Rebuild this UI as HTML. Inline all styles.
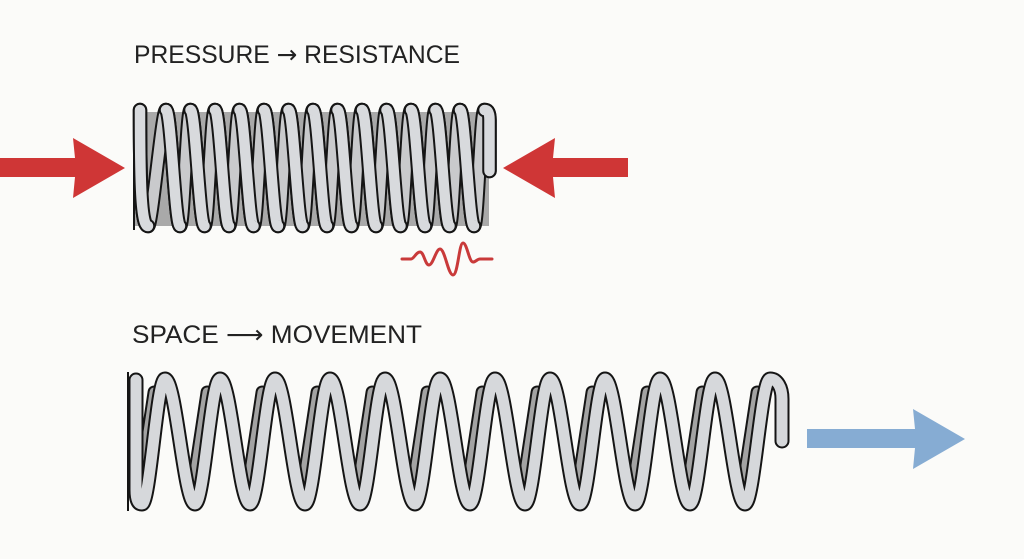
<!DOCTYPE html>
<html>
<head>
<meta charset="utf-8">
<style>
  html,body{margin:0;padding:0;background:#fbfbf9;}
  body{width:1024px;height:559px;overflow:hidden;}
  svg{display:block;}
</style>
</head>
<body>
<svg width="1024" height="559" viewBox="0 0 1024 559" xmlns="http://www.w3.org/2000/svg">
  <rect x="0" y="0" width="1024" height="559" fill="#fbfbf9"/>

  <!-- Labels -->
  <text x="134" y="63" font-family="'Liberation Sans', 'DejaVu Sans', sans-serif" font-size="25" fill="#222" textLength="326" lengthAdjust="spacingAndGlyphs">PRESSURE <tspan font-family="'DejaVu Sans', sans-serif">→</tspan> RESISTANCE</text>
  <text x="132" y="343" font-family="'Liberation Sans', 'DejaVu Sans', sans-serif" font-size="25" fill="#222" textLength="290" lengthAdjust="spacingAndGlyphs">SPACE <tspan font-family="'DejaVu Sans', sans-serif">⟶</tspan> MOVEMENT</text>

  <!-- Red arrows -->
  <polygon points="0,158 75,158 73,138 125,168 73,198 75,177 0,177" fill="#cf3636"/>
  <polygon points="628,158 553,158 555,138 503,168 555,198 553,177 628,177" fill="#cf3636"/>

  <!-- Blue arrow -->
  <polygon points="807,429 915,429 913,409 965,439 913,469 915,448 807,448" fill="#86acd3"/>

  <!-- Top (compressed) spring -->
  <rect x="134" y="112" width="355" height="114" fill="#a9a9a9"/>
  <line x1="134" y1="108" x2="134" y2="230" stroke="#151515" stroke-width="2"/>
  <g fill="none" stroke-linecap="round" stroke-linejoin="round">
    <!-- back (full wave) -->
    <path d="M 140,110 C 140,180 141,226 148,226 c 4,0 14,-116 18,-116
      c 5,0 9,116 14,116 c 4,0 6.5,-116 10.5,-116
      c 5,0 9,116 14,116 c 4,0 6.5,-116 10.5,-116
      c 5,0 9,116 14,116 c 4,0 6.5,-116 10.5,-116
      c 5,0 9,116 14,116 c 4,0 6.5,-116 10.5,-116
      c 5,0 9,116 14,116 c 4,0 6.5,-116 10.5,-116
      c 5,0 9,116 14,116 c 4,0 6.5,-116 10.5,-116
      c 5,0 9,116 14,116 c 4,0 6.5,-116 10.5,-116
      c 5,0 9,116 14,116 c 4,0 6.5,-116 10.5,-116
      c 5,0 9,116 14,116 c 4,0 6.5,-116 10.5,-116
      c 5,0 9,116 14,116 c 4,0 6.5,-116 10.5,-116
      c 5,0 9,116 14,116 c 4,0 6.5,-116 10.5,-116
      c 5,0 9,116 14,116 c 4,0 6.5,-116 10.5,-116
      c 5,0 9,116 14,116 c 4,0 6.5,-116 10.5,-116
      c 4,0 5,4 5,10 l 0,51"
      stroke="#151515" stroke-width="14.5"/>
    <path d="M 140,110 C 140,180 141,226 148,226 c 4,0 14,-116 18,-116
      c 5,0 9,116 14,116 c 4,0 6.5,-116 10.5,-116
      c 5,0 9,116 14,116 c 4,0 6.5,-116 10.5,-116
      c 5,0 9,116 14,116 c 4,0 6.5,-116 10.5,-116
      c 5,0 9,116 14,116 c 4,0 6.5,-116 10.5,-116
      c 5,0 9,116 14,116 c 4,0 6.5,-116 10.5,-116
      c 5,0 9,116 14,116 c 4,0 6.5,-116 10.5,-116
      c 5,0 9,116 14,116 c 4,0 6.5,-116 10.5,-116
      c 5,0 9,116 14,116 c 4,0 6.5,-116 10.5,-116
      c 5,0 9,116 14,116 c 4,0 6.5,-116 10.5,-116
      c 5,0 9,116 14,116 c 4,0 6.5,-116 10.5,-116
      c 5,0 9,116 14,116 c 4,0 6.5,-116 10.5,-116
      c 5,0 9,116 14,116 c 4,0 6.5,-116 10.5,-116
      c 5,0 9,116 14,116 c 4,0 6.5,-116 10.5,-116
      c 4,0 5,4 5,10 l 0,51"
      stroke="#c9cacc" stroke-width="10.5"/>
    <!-- front legs -->
    <path d="M 140,110 C 140,180 141,226 148,226
      M 166,110 c 5,0 9,116 14,116
      M 190.5,110 c 5,0 9,116 14,116
      M 215,110 c 5,0 9,116 14,116
      M 239.5,110 c 5,0 9,116 14,116
      M 264,110 c 5,0 9,116 14,116
      M 288.5,110 c 5,0 9,116 14,116
      M 313,110 c 5,0 9,116 14,116
      M 337.5,110 c 5,0 9,116 14,116
      M 362,110 c 5,0 9,116 14,116
      M 386.5,110 c 5,0 9,116 14,116
      M 411,110 c 5,0 9,116 14,116
      M 435.5,110 c 5,0 9,116 14,116
      M 460,110 c 5,0 9,116 14,116
      M 484.5,110 c 4,0 5,4 5,10 l 0,51"
      stroke="#151515" stroke-width="14.5"/>
    <path d="M 140,110 C 140,180 141,226 148,226
      M 166,110 c 5,0 9,116 14,116
      M 190.5,110 c 5,0 9,116 14,116
      M 215,110 c 5,0 9,116 14,116
      M 239.5,110 c 5,0 9,116 14,116
      M 264,110 c 5,0 9,116 14,116
      M 288.5,110 c 5,0 9,116 14,116
      M 313,110 c 5,0 9,116 14,116
      M 337.5,110 c 5,0 9,116 14,116
      M 362,110 c 5,0 9,116 14,116
      M 386.5,110 c 5,0 9,116 14,116
      M 411,110 c 5,0 9,116 14,116
      M 435.5,110 c 5,0 9,116 14,116
      M 460,110 c 5,0 9,116 14,116
      M 484.5,110 c 4,0 5,4 5,10 l 0,51"
      stroke="#d8dadd" stroke-width="10.5"/>
  </g>

  <!-- Red vibration squiggle -->
  <path d="M402,259 L411,259 C414,259 416,252 420,252 C424,252 425,265 429,265 C433,265 436,249 440,249 C445,249 448,275 453,275 C458,275 459,243 463,243 C467,243 469,262 473,262 C476,262 477,259 480,259 L492,259"
    fill="none" stroke="#c93a3a" stroke-width="3" stroke-linejoin="round" stroke-linecap="round"/>

  <!-- Bottom (extended) spring -->
  <line x1="128" y1="372" x2="128" y2="511" stroke="#151515" stroke-width="2"/>
  <!-- back strips -->
  <g fill="none" stroke-linecap="round">
    <path d="M138.9,492 L154.1,392 M191.9,492 L207.1,392 M246.9,492 L262.1,392 M301.9,492 L317.1,392
             M356.9,492 L372.1,392 M411.9,492 L427.1,392 M466.9,492 L482.1,392 M521.9,492 L537.1,392
             M576.9,492 L592.1,392 M631.9,492 L647.1,392 M686.9,492 L702.1,392 M741.9,492 L757.1,392"
          stroke="#151515" stroke-width="13"/>
    <path d="M138.9,492 L154.1,392 M191.9,492 L207.1,392 M246.9,492 L262.1,392 M301.9,492 L317.1,392
             M356.9,492 L372.1,392 M411.9,492 L427.1,392 M466.9,492 L482.1,392 M521.9,492 L537.1,392
             M576.9,492 L592.1,392 M631.9,492 L647.1,392 M686.9,492 L702.1,392 M741.9,492 L757.1,392"
          stroke="#a3a3a3" stroke-width="9"/>
  </g>
  <!-- front wave -->
  <path d="M 136,380 L 136,490 C 136,500 138,504 142,504 c 8,0 15,-125 23,-125
    c 11,0 19,125 30,125 c 9,0 16,-125 25,-125
    c 11,0 19,125 30,125 c 9,0 16,-125 25,-125
    c 11,0 19,125 30,125 c 9,0 16,-125 25,-125
    c 11,0 19,125 30,125 c 9,0 16,-125 25,-125
    c 11,0 19,125 30,125 c 9,0 16,-125 25,-125
    c 11,0 19,125 30,125 c 9,0 16,-125 25,-125
    c 11,0 19,125 30,125 c 9,0 16,-125 25,-125
    c 11,0 19,125 30,125 c 9,0 16,-125 25,-125
    c 11,0 19,125 30,125 c 9,0 16,-125 25,-125
    c 11,0 19,125 30,125 c 9,0 16,-125 25,-125
    c 11,0 19,125 30,125 c 9,0 16,-125 25,-125
    c 7,0 12,8 12,20 l 0,42"
    fill="none" stroke="#151515" stroke-width="15" stroke-linecap="round" stroke-linejoin="round"/>
  <path d="M 136,380 L 136,490 C 136,500 138,504 142,504 c 8,0 15,-125 23,-125
    c 11,0 19,125 30,125 c 9,0 16,-125 25,-125
    c 11,0 19,125 30,125 c 9,0 16,-125 25,-125
    c 11,0 19,125 30,125 c 9,0 16,-125 25,-125
    c 11,0 19,125 30,125 c 9,0 16,-125 25,-125
    c 11,0 19,125 30,125 c 9,0 16,-125 25,-125
    c 11,0 19,125 30,125 c 9,0 16,-125 25,-125
    c 11,0 19,125 30,125 c 9,0 16,-125 25,-125
    c 11,0 19,125 30,125 c 9,0 16,-125 25,-125
    c 11,0 19,125 30,125 c 9,0 16,-125 25,-125
    c 11,0 19,125 30,125 c 9,0 16,-125 25,-125
    c 11,0 19,125 30,125 c 9,0 16,-125 25,-125
    c 7,0 12,8 12,20 l 0,42"
    fill="none" stroke="#d6d8db" stroke-width="11" stroke-linecap="round" stroke-linejoin="round"/>
</svg>
</body>
</html>
